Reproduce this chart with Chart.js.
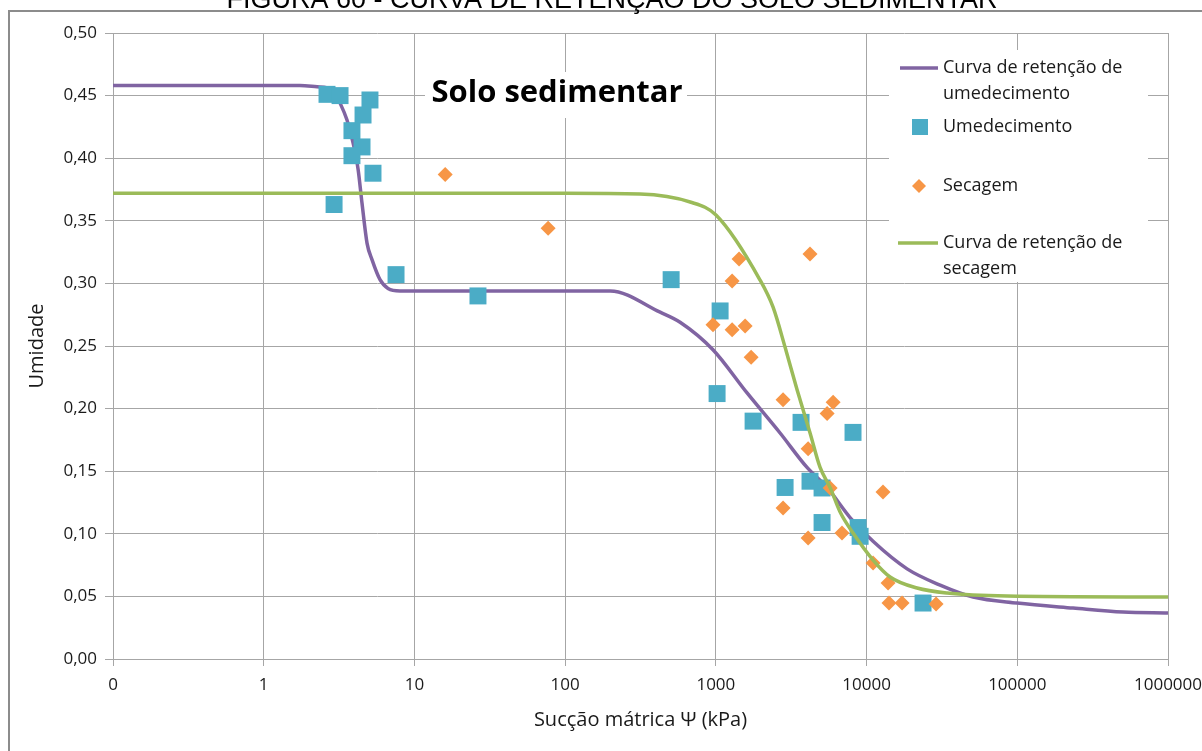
<!DOCTYPE html>
<html>
<head>
<meta charset="utf-8">
<script src="https://cdn.jsdelivr.net/npm/chart.js@4.4.1/dist/chart.umd.min.js"></script>
<style>
  html, body { margin: 0; padding: 0; background: #fff; }
  #wrap { width: 1202px; height: 751px; }
</style>
</head>
<body>
<div id="wrap"><canvas id="chart" width="1202" height="751"></canvas></div>
<script>
// Curva de retenção — solo sedimentar
const xTickValues = [0.1, 1, 10, 100, 1000, 10000, 100000, 1000000];
const xTickLabels = ["0", "1", "10", "100", "1000", "10000", "100000", "1000000"];
const yTickValues = [0, 0.05, 0.1, 0.15, 0.2, 0.25, 0.3, 0.35, 0.4, 0.45, 0.5];

// Umedecimento (pontos medidos)
const wetX = [2.63, 3.21, 5.07, 4.56, 3.85, 4.49, 3.85, 5.31, 2.93, 7.55, 26.4, 505, 1067, 1019, 1766, 2880, 3675, 4214, 5066, 5066, 8130, 8790, 9060, 23700];
const wetY = [0.451, 0.450, 0.4465, 0.4345, 0.422, 0.409, 0.402, 0.388, 0.363, 0.307, 0.290, 0.303, 0.278, 0.212, 0.190, 0.137, 0.189, 0.142, 0.1366, 0.109, 0.181, 0.105, 0.098, 0.0447];

// Secagem (pontos medidos)
const dryX = [16.0, 77.1, 1426, 4214, 1282, 957, 1282, 1564, 1714, 2793, 5998, 5474, 4095, 2793, 4095, 5731, 6870, 12850, 11040, 13890, 14090, 17200, 28900];
const dryY = [0.387, 0.344, 0.3195, 0.3235, 0.302, 0.267, 0.263, 0.266, 0.241, 0.207, 0.205, 0.196, 0.168, 0.1206, 0.0966, 0.1366, 0.1006, 0.1334, 0.0767, 0.0607, 0.0447, 0.0447, 0.0439];

// curva ajustada de umedecimento
const wetCurveX = [0.1, 1.74, 2.26, 2.88, 3.21, 3.57, 3.92, 4.23, 4.49, 4.85, 5.23, 5.91, 6.68, 8.02, 199, 427, 579, 957, 1611, 2667, 4027, 5470, 7770, 11040, 18570, 30770, 50900, 99800, 234600, 503000, 1000000];
const wetCurveY = [0.458, 0.458, 0.457, 0.4545, 0.444, 0.4305, 0.412, 0.391, 0.364, 0.332, 0.319, 0.303, 0.296, 0.294, 0.294, 0.277, 0.269, 0.247, 0.2125, 0.1805, 0.153, 0.137, 0.113, 0.094, 0.072, 0.059, 0.0495, 0.0447, 0.0407, 0.0375, 0.0367];

// curva ajustada de secagem
const dryCurveX = [0.1, 100, 314, 675, 1002, 1964, 2397, 2880, 3459, 4217, 4915, 5728, 6674, 8137, 11040, 14320, 21630, 34200, 85500, 1000000];
const dryCurveY = [0.372, 0.372, 0.3714, 0.365, 0.3546, 0.3027, 0.281, 0.249, 0.215, 0.1805, 0.153, 0.137, 0.1174, 0.1006, 0.079, 0.0655, 0.0567, 0.0527, 0.0503, 0.0495];

const colors = { wet: "#8064a2", wetPts: "#4bacc6", dryPts: "#f79646", dry: "#9bbb59", grid: "#a6a6a6", text: "#1a1a1a" };
const FONT = "'Open Sans', 'DejaVu Sans', sans-serif";

const pts = (xs, ys) => xs.map((x, i) => ({ x, y: ys[i] }));

// moldura + título cortado no topo
const framePlugin = {
  id: "frame",
  beforeDraw(chart) {
    const ctx = chart.ctx;
    ctx.save();
    ctx.fillStyle = "#fff";
    ctx.fillRect(0, 0, chart.width, chart.height);
    ctx.strokeStyle = "#8c8c8c";
    ctx.lineWidth = 2;
    ctx.beginPath();
    ctx.moveTo(9, chart.height);
    ctx.lineTo(9, 11);
    ctx.lineTo(chart.width, 11);
    ctx.stroke();
    ctx.fillStyle = "#000";
    ctx.font = "27px 'Liberation Sans', Arial, sans-serif";
    ctx.textAlign = "center";
    ctx.textBaseline = "alphabetic";
    ctx.fillText("FIGURA 60 - CURVA DE RETENÇÃO DO SOLO SEDIMENTAR", 612, 8);
    ctx.restore();
  },
};

// rótulo "Solo sedimentar" e legenda
const overlayPlugin = {
  id: "overlay",
  afterDraw(chart) {
    const ctx = chart.ctx;
    ctx.save();
    ctx.fillStyle = "#fff";
    ctx.fillRect(425, 72, 262, 46);
    ctx.fillStyle = "#000";
    ctx.font = "bold 31px " + FONT;
    ctx.textAlign = "center";
    ctx.textBaseline = "middle";
    ctx.fillText("Solo sedimentar", 557, 93);

    ctx.fillStyle = "#fff";
    ctx.fillRect(889, 50, 259, 232);
    ctx.fillStyle = colors.text;
    ctx.font = "18px " + FONT;
    ctx.textAlign = "left";
    const lines = [
      ["Curva de retenção de", 68], ["umedecimento", 94], ["Umedecimento", 127],
      ["Secagem", 186], ["Curva de retenção de", 243], ["secagem", 269],
    ];
    lines.forEach(([t, y]) => ctx.fillText(t, 943, y));

    ctx.lineWidth = 3.5;
    ctx.strokeStyle = colors.wet;
    ctx.beginPath(); ctx.moveTo(900, 68); ctx.lineTo(938, 68); ctx.stroke();
    ctx.strokeStyle = colors.dry;
    ctx.beginPath(); ctx.moveTo(898, 243); ctx.lineTo(938, 243); ctx.stroke();
    ctx.fillStyle = colors.wetPts;
    ctx.fillRect(912, 119, 16, 16);
    ctx.fillStyle = colors.dryPts;
    ctx.beginPath();
    ctx.moveTo(919, 179); ctx.lineTo(926, 186); ctx.lineTo(919, 193); ctx.lineTo(912, 186);
    ctx.closePath(); ctx.fill();
    ctx.restore();
  },
};

new Chart(document.getElementById("chart"), {
  type: "scatter",
  data: {
    datasets: [
      {
        label: "Curva de retenção de umedecimento",
        data: pts(wetCurveX, wetCurveY),
        showLine: true,
        borderColor: colors.wet,
        borderWidth: 3.5,
        pointRadius: 0,
        cubicInterpolationMode: "monotone",
        order: 3,
      },
      {
        label: "Umedecimento",
        data: pts(wetX, wetY),
        pointStyle: "rect",
        pointRadius: 12,
        backgroundColor: colors.wetPts,
        borderColor: colors.wetPts,
        borderWidth: 0,
        order: 2,
      },
      {
        label: "Secagem",
        data: pts(dryX, dryY),
        pointStyle: "rectRot",
        pointRadius: 7.5,
        backgroundColor: colors.dryPts,
        borderColor: colors.dryPts,
        borderWidth: 0,
        order: 1,
      },
      {
        label: "Curva de retenção de secagem",
        data: pts(dryCurveX, dryCurveY),
        showLine: true,
        borderColor: colors.dry,
        borderWidth: 3.5,
        pointRadius: 0,
        cubicInterpolationMode: "monotone",
        order: 0,
      },
    ],
  },
  options: {
    responsive: false,
    animation: false,
    layout: { padding: { top: 33, right: 34, left: 0, bottom: 0 } },
    plugins: { legend: { display: false }, tooltip: { enabled: false } },
    scales: {
      x: {
        type: "logarithmic",
        min: 0.1,
        max: 1000000,
        afterBuildTicks: (s) => { s.ticks = xTickValues.map((v) => ({ value: v })); },
        afterFit: (s) => { s.height = 92; s.paddingRight = 0; s.paddingLeft = 0; },
        grid: { color: colors.grid, tickLength: 7 },
        border: { color: colors.grid },
        ticks: {
          color: colors.text,
          font: { family: FONT, size: 17 },
          padding: 9,
          maxRotation: 0,
          autoSkip: false,
          callback: (v, i) => xTickLabels[i],
        },
        title: {
          display: true,
          text: "Sucção mátrica Ψ (kPa)",
          color: colors.text,
          font: { family: FONT, size: 20 },
          padding: { top: 0, bottom: 19 },
        },
      },
      y: {
        min: 0,
        max: 0.5,
        afterBuildTicks: (s) => { s.ticks = yTickValues.map((v) => ({ value: v })); },
        afterFit: (s) => { s.width = 113; },
        grid: { color: colors.grid, tickLength: 8 },
        border: { color: colors.grid },
        ticks: {
          color: colors.text,
          font: { family: FONT, size: 17 },
          padding: 8,
          callback: (v) => v.toFixed(2).replace(".", ","),
        },
        title: {
          display: true,
          text: "Umidade",
          color: colors.text,
          font: { family: FONT, size: 20 },
          padding: { top: 25, bottom: 0 },
        },
      },
    },
  },
  plugins: [framePlugin, overlayPlugin],
});
</script>
</body>
</html>
